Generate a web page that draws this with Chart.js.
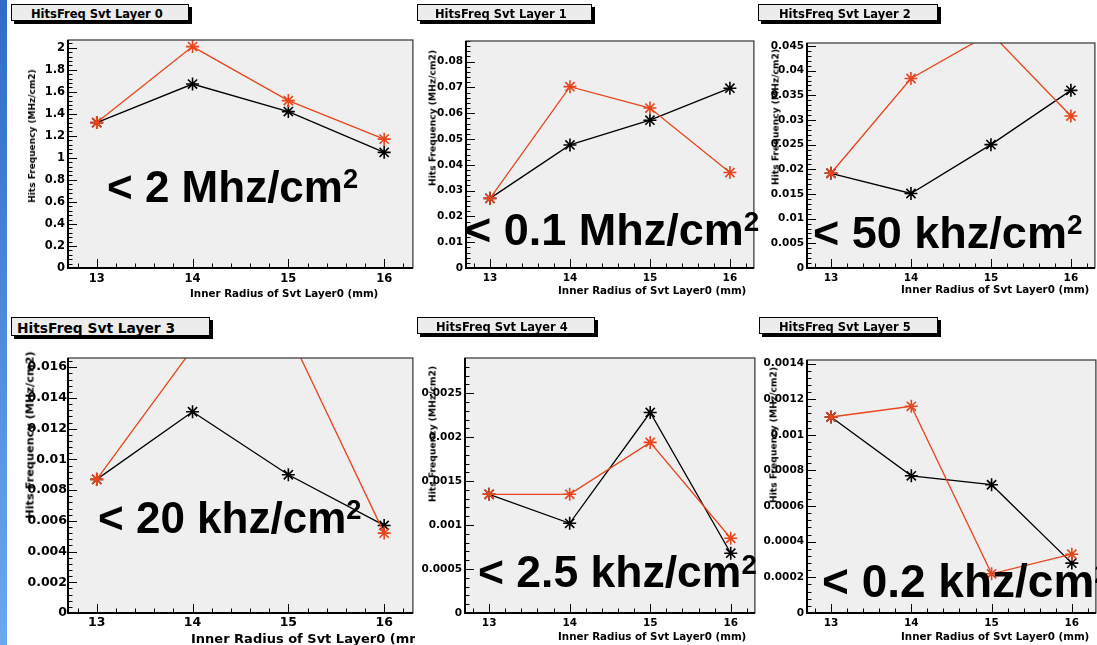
<!DOCTYPE html>
<html>
<head>
<meta charset="utf-8">
<script src="https://cdn.jsdelivr.net/npm/chart.js@4/dist/chart.umd.min.js"></script>
<style>
  body { margin: 0; width: 1097px; height: 645px; background: #fff; position: relative; overflow: hidden; }
  #strip { position: absolute; left: 0; top: 0; width: 7px; height: 645px; background: linear-gradient(#2e6cc8, #6aa9ee); }
  canvas { position: absolute; }
  .ttl { position: absolute; box-sizing: border-box; border: 1px solid #000; background: #ececec; box-shadow: 3px 3px 0 #000;
         font-family: 'DejaVu Sans', sans-serif; font-weight: bold; overflow: hidden; white-space: nowrap; color: #000; }
  .ytl { position: absolute; font-family: 'DejaVu Sans', sans-serif; font-weight: bold; white-space: nowrap;
         transform: translate(-50%, -50%) rotate(-90deg); color: #000; }
  .xtl { position: absolute; font-family: 'DejaVu Sans', sans-serif; font-weight: bold; white-space: nowrap; overflow: hidden;
         transform: translateY(-50%); color: #000; }
  .big { position: absolute; font-family: 'Liberation Sans', Arial, sans-serif; font-weight: bold; white-space: nowrap;
         line-height: 1; color: #000; }
  .big span { font-size: 0.62em; position: relative; top: -0.5em; }
</style>
</head>
<body>
<div id="strip"></div>
<script>
// x values and ticks
const radii = [13, 14, 15, 16];
const xTickValues = [13, 14, 15, 16];

const panelTitles = ['HitsFreq Svt Layer 0', 'HitsFreq Svt Layer 1', 'HitsFreq Svt Layer 2',
                     'HitsFreq Svt Layer 3', 'HitsFreq Svt Layer 4', 'HitsFreq Svt Layer 5'];
const yAxisTitle = 'Hits Frequency (MHz/cm2)';
const xAxisTitle = 'Inner Radius of Svt Layer0 (mm)';
const limitLabels = ['< 2 Mhz/cm', '< 0.1 Mhz/cm', '< 50 khz/cm', '< 20 khz/cm', '< 2.5 khz/cm', '< 0.2 khz/cm'];

// black series
const blackL0 = [1.32, 1.67, 1.42, 1.05];
const blackL1 = [0.027, 0.0477, 0.0573, 0.0697];
const blackL2 = [0.0192, 0.0151, 0.025, 0.036];
const blackL3 = [0.0087, 0.0131, 0.0090, 0.0057];
const blackL4 = [0.00135, 0.00102, 0.00228, 0.00068];
const blackL5 = [0.00110, 0.00077, 0.00072, 0.00028];

// red series
const redL0 = [1.32, 2.01, 1.52, 1.17];
const redL1 = [0.027, 0.0703, 0.062, 0.037];
const redL2 = [0.0192, 0.0384, 0.0476, 0.0308];
const redL3 = [0.0087, 0.0172, 0.0183, 0.0052];
const redL4 = [0.00135, 0.00135, 0.00194, 0.00085];
const redL5 = [0.00110, 0.00116, 0.00022, 0.00033];

// y axis ranges and ticks
const yMaxValues = [2.07, 0.088, 0.0456, 0.0166, 0.0029, 0.00142];
const yTicksL0 = [0, 0.2, 0.4, 0.6, 0.8, 1, 1.2, 1.4, 1.6, 1.8, 2];
const yTicksL1 = [0, 0.01, 0.02, 0.03, 0.04, 0.05, 0.06, 0.07, 0.08];
const yTicksL2 = [0, 0.005, 0.01, 0.015, 0.02, 0.025, 0.03, 0.035, 0.04, 0.045];
const yTicksL3 = [0, 0.002, 0.004, 0.006, 0.008, 0.01, 0.012, 0.014, 0.016];
const yTicksL4 = [0, 0.0005, 0.001, 0.0015, 0.002, 0.0025];
const yTicksL5 = [0, 0.0002, 0.0004, 0.0006, 0.0008, 0.001, 0.0012, 0.0014];

const blackSeries = [blackL0, blackL1, blackL2, blackL3, blackL4, blackL5];
const redSeries = [redL0, redL1, redL2, redL3, redL4, redL5];
const yTickSets = [yTicksL0, yTicksL1, yTicksL2, yTicksL3, yTicksL4, yTicksL5];

// page layout of each pad (frame l,t,r,b and text placement)
const layout = [
  { frame: [68, 40, 413, 268], box: [11, 4, 178, 17, 11.5, 19], yt: [32, 136, 9], xt: [190, 293, 10.3, 0], big: [107, 202, 44], tick: 11.5 },
  { frame: [466, 41, 754, 268], box: [417, 4, 175, 17, 11.5, 17], yt: [432, 118, 9.2], xt: [558, 290, 10.3, 0], big: [465, 245, 45], tick: 10.5 },
  { frame: [807, 43, 1095, 268], box: [758, 4, 180, 17, 11.5, 20], yt: [775, 117, 9.2], xt: [901, 289, 10.3, 0], big: [813, 248, 45], tick: 10.5 },
  { frame: [68, 358, 413, 613], box: [11, 317, 199, 19, 13.8, 5], yt: [30, 435, 11.3], xt: [191, 638, 13, 224], big: [98, 533, 44], tick: 12.5 },
  { frame: [465, 358, 755, 613], box: [417, 317, 178, 17, 11.5, 18], yt: [432, 434, 9.2], xt: [558, 636, 10.3, 0], big: [478, 588, 44.5], tick: 10.5 },
  { frame: [807, 360, 1096, 613], box: [759, 317, 179, 17, 11.5, 19], yt: [773, 435, 9.2], xt: [901, 636, 10.3, 0], big: [822, 597, 46], tick: 10.5 }
];

const RED = '#e8451c';
const PAD_L = 62, PAD_T = 12, PAD_R = 8, PAD_B = 30;

// gray pad fill, frame and inside ticks like ROOT
const rootFrame = {
  id: 'rootFrame',
  beforeDatasetsDraw(chart) {
    const { ctx, chartArea: a } = chart;
    ctx.save();
    ctx.fillStyle = '#efefef';
    ctx.fillRect(a.left, a.top, a.right - a.left, a.bottom - a.top);
    ctx.restore();
  },
  afterDatasetsDraw(chart) {
    const { ctx, chartArea: a, scales } = chart;
    const ys = scales.y, xs = scales.x;
    const yt = ys.ticks.map(t => t.value);
    const yStep = yt[1] - yt[0];
    ctx.save();
    ctx.strokeStyle = '#000';
    ctx.lineWidth = 1;
    ctx.beginPath();
    for (let i = 0; ; i++) {
      const v = i * yStep / 5;
      if (v > ys.max) break;
      const py = Math.round(ys.getPixelForValue(v)) + 0.5;
      ctx.moveTo(a.left, py);
      ctx.lineTo(a.left + (i % 5 === 0 ? 9 : 4.5), py);
    }
    for (let i = -1; ; i++) {
      const v = xTickValues[0] + i * 0.2;
      if (v > xs.max) break;
      const px = Math.round(xs.getPixelForValue(v)) + 0.5;
      ctx.moveTo(px, a.bottom);
      ctx.lineTo(px, a.bottom - (i % 5 === 0 ? 9 : 4.5));
    }
    ctx.stroke();
    // frame
    ctx.strokeStyle = '#333';
    ctx.lineWidth = 1.2;
    ctx.strokeRect(a.left, a.top, a.right - a.left, a.bottom - a.top);
    ctx.strokeStyle = '#000';
    ctx.lineWidth = 2;
    ctx.beginPath();
    ctx.moveTo(a.left, a.top);
    ctx.lineTo(a.left, a.bottom);
    ctx.lineTo(a.right, a.bottom);
    ctx.stroke();
    ctx.restore();
  }
};

function addDiv(cls, html, style) {
  const d = document.createElement('div');
  d.className = cls;
  d.innerHTML = html;
  Object.assign(d.style, style);
  document.body.appendChild(d);
  return d;
}

layout.forEach((L, i) => {
  const [l, t, r, b] = L.frame;
  const canvas = document.createElement('canvas');
  const w = r - l + PAD_L + PAD_R, h = b - t + PAD_T + PAD_B;
  canvas.width = w; canvas.height = h;
  canvas.style.left = (l - PAD_L) + 'px';
  canvas.style.top = (t - PAD_T) + 'px';
  canvas.style.width = w + 'px';
  canvas.style.height = h + 'px';
  document.body.appendChild(canvas);

  const tickFont = { family: "'DejaVu Sans', sans-serif", weight: 'bold', size: L.tick };
  const yTicks = yTickSets[i];

  new Chart(canvas, {
    type: 'line',
    data: {
      datasets: [
        {
          data: radii.map((x, k) => ({ x, y: redSeries[i][k] })),
          borderColor: RED, backgroundColor: RED, borderWidth: 1.3,
          pointStyle: 'star', pointRadius: 6.5, pointBorderWidth: 1.6,
          pointBorderColor: RED, fill: false, tension: 0, clip: 0
        },
        {
          data: radii.map((x, k) => ({ x, y: blackSeries[i][k] })),
          borderColor: '#000', backgroundColor: '#000', borderWidth: 1.3,
          pointStyle: 'star', pointRadius: 6.5, pointBorderWidth: 1.6,
          pointBorderColor: '#000', fill: false, tension: 0, clip: 0
        }
      ]
    },
    options: {
      responsive: false,
      animation: false,
      devicePixelRatio: 1,
      layout: { padding: { top: PAD_T, right: PAD_R, left: 0, bottom: 0 } },
      plugins: { legend: { display: false }, tooltip: { enabled: false } },
      scales: {
        x: {
          type: 'linear', min: 12.7, max: 16.3,
          grid: { display: false, drawTicks: false }, border: { display: false },
          afterBuildTicks: s => { s.ticks = xTickValues.map(v => ({ value: v })); },
          afterFit: s => { s.height = PAD_B; },
          ticks: { color: '#000', font: tickFont, padding: i === 3 ? 2 : 4, maxRotation: 0, autoSkip: false,
                   callback: v => String(v) }
        },
        y: {
          type: 'linear', min: 0, max: yMaxValues[i],
          grid: { display: false, drawTicks: false }, border: { display: false },
          afterBuildTicks: s => { s.ticks = yTicks.map(v => ({ value: v })); },
          afterFit: s => { s.width = PAD_L; },
          ticks: { color: '#000', font: tickFont, padding: i === 3 ? 1 : 3, autoSkip: false,
                   callback: v => String(Number(v.toPrecision(6))) }
        }
      }
    },
    plugins: [rootFrame]
  });

  // pad title box
  const [bx, by, bw, bh, bfs, bpl] = L.box;
  addDiv('ttl', panelTitles[i], {
    left: bx + 'px', top: by + 'px', width: bw + 'px', height: bh + 'px',
    fontSize: bfs + 'px', lineHeight: (bh - 2) + 'px', paddingLeft: bpl + 'px', paddingTop: '2px'
  });

  // axis titles
  addDiv('ytl', yAxisTitle, { left: L.yt[0] + 'px', top: L.yt[1] + 'px', fontSize: L.yt[2] + 'px' });
  const xs = { left: L.xt[0] + 'px', top: L.xt[1] + 'px', fontSize: L.xt[2] + 'px' };
  if (L.xt[3]) xs.width = L.xt[3] + 'px';
  addDiv('xtl', xAxisTitle, xs);

  // big rate limit label
  const [gx, gb, gfs] = L.big;
  addDiv('big', limitLabels[i] + '<span>2</span>', {
    left: gx + 'px', top: (gb - 0.847 * gfs) + 'px', fontSize: gfs + 'px'
  });
});
</script>
</body>
</html>
